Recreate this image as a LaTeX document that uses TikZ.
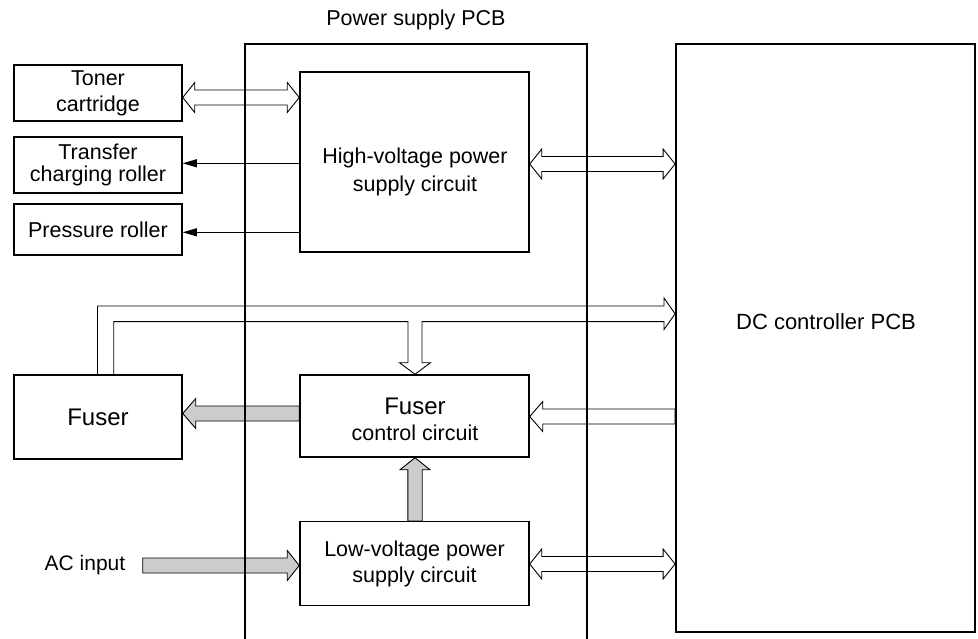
\documentclass[tikz,border=0pt]{standalone}
\usepackage{fontspec}
\setmainfont{Liberation Sans}
\usetikzlibrary{arrows.meta,calc}
\pgfdeclarelayer{bg}
\pgfsetlayers{bg,main}
\definecolor{arrgray}{RGB}{204,204,204}
% horizontal hollow double arrow: left tip, right tip
\newcommand\hdblarrow[2]{%
  \draw[blk] let \p1=#1, \p2=#2 in
   (\x1,\y1) -- (\x1+12pt,\y1+15pt) -- (\x1+12pt,\y1+7.5pt) -- (\x2-12pt,\y1+7.5pt)
   -- (\x2-12pt,\y1+15pt) -- (\x2,\y1) -- (\x2-12pt,\y1-15pt) -- (\x2-12pt,\y1-7.5pt)
   -- (\x1+12pt,\y1-7.5pt) -- (\x1+12pt,\y1-15pt) -- cycle;}
% horizontal single arrow pointing left: style, tip, tail
\newcommand\hleftarrow[3]{%
  \draw[#1] let \p1=#2, \p2=#3 in
   (\x1,\y1) -- (\x1+13pt,\y1+15pt) -- (\x1+13pt,\y1+7.5pt) -- (\x2,\y1+7.5pt)
   -- (\x2,\y1-7.5pt) -- (\x1+13pt,\y1-7.5pt) -- (\x1+13pt,\y1-15pt) -- cycle;}
% horizontal single arrow pointing right: style, tail, tip
\newcommand\hrightarrow[3]{%
  \draw[#1] let \p1=#2, \p2=#3 in
   (\x2,\y2) -- (\x2-12pt,\y2+15pt) -- (\x2-12pt,\y2+7.5pt) -- (\x1,\y2+7.5pt)
   -- (\x1,\y2-7.5pt) -- (\x2-12pt,\y2-7.5pt) -- (\x2-12pt,\y2-15pt) -- cycle;}
% vertical single arrow pointing up: style, tail, tip
\newcommand\vuparrow[3]{%
  \draw[#1] let \p1=#2, \p2=#3 in
   (\x2,\y2) -- (\x2+15pt,\y2-12pt) -- (\x2+7.2pt,\y2-12pt) -- (\x2+7.2pt,\y1)
   -- (\x2-7.2pt,\y1) -- (\x2-7.2pt,\y2-12pt) -- (\x2-15pt,\y2-12pt) -- cycle;}
\begin{document}
\begin{tikzpicture}[x=1pt,y=-1pt,
  box/.style={draw, line width=1.5pt, rectangle, inner sep=0pt},
  pcb/.style={draw, line width=1.8pt, rectangle, inner sep=0pt},
  txt/.style={font=\fontsize{21.5}{26}\selectfont, align=center, inner sep=0pt},
  blk/.style={draw, line width=0.9pt, fill=white, line join=miter},
  hollow/.style={draw, line width=0.9pt, line join=miter},
  gblk/.style={draw, line width=0.9pt, fill=arrgray, line join=miter},
  thinarr/.style={draw, line width=0.9pt, -{Triangle[length=14pt,width=8pt]}}]
\useasboundingbox (0,0) rectangle (978,639);

% PCB frames
\node[pcb, minimum width=342pt, minimum height=640pt] (psu) at (416,364) {};
\node[txt] (psulbl) at (416,20) {Power supply PCB};
\node[pcb, minimum width=299pt, minimum height=588pt] (dc) at (825.5,338) {};
\node[txt, font=\fontsize{22}{26}\selectfont] (dclbl) at (826,322) {DC controller PCB};

% circuits on the power supply PCB
\node[box, minimum width=229pt, minimum height=180pt] (hv) at (414.5,162) {};
\node[txt, font=\fontsize{21.5}{28}\selectfont] (hvlbl) at (415,172) {High-voltage power\\supply circuit};
\node[box, minimum width=229pt, minimum height=82pt] (fc) at (414.5,416) {};
\node[txt] (fclbl) at (415,419) {{\fontsize{24}{26}\selectfont Fuser}\\control circuit};
\node[box, minimum width=229pt, minimum height=84pt, txt] (lv) at (414.5,563.7) {Low-voltage power\\supply circuit};

% left-hand units
\node[box, minimum width=168pt, minimum height=56pt, txt] (toner) at (98,93) {Toner\\cartridge};
\node[box, minimum width=168pt, minimum height=56pt, txt, font=\fontsize{21.5}{22}\selectfont] (transfer) at (98,165) {Transfer\\charging roller};
\node[box, minimum width=168pt, minimum height=51pt, txt] (pressure) at (98,229.5) {Pressure roller};
\node[box, minimum width=168pt, minimum height=84pt, txt, font=\fontsize{24}{26}\selectfont] (fuser) at (98,417) {Fuser};
\node[txt, font=\fontsize{21}{26}\selectfont] (ac) at (85,565) {AC input};

\begin{pgfonlayer}{bg}
% helper points
\coordinate (tnR) at (toner.east |- 0,97.5);
\coordinate (hvT) at (hv.west |- 0,97.5);
\coordinate (hvR) at (hv.east |- 0,164);
\coordinate (dcH) at (dc.west |- 0,164);
\coordinate (fcR) at (fc.east |- 0,416.5);
\coordinate (dcF) at (dc.west |- 0,416.5);
\coordinate (lvR) at (lv.east |- 0,564);
\coordinate (dcL) at (dc.west |- 0,564);
\coordinate (fuR) at (fuser.east |- 0,413.5);
\coordinate (fcL) at (fc.west |- 0,413.5);
\coordinate (lvT) at (lv.north -| 415,0);
\coordinate (fcB) at (fc.south -| 415,0);
\coordinate (acT) at (142.7,565.5);
\coordinate (lvL) at (lv.west |- 0,565.5);

\hdblarrow{(tnR)}{(hvT)}
\draw[thinarr] (hv.west |- 0,163.3) -- (transfer.east |- 0,163.3);
\draw[thinarr] (hv.west |- 0,232.3) -- (pressure.east |- 0,232.3);
\hdblarrow{(hvR)}{(dcH)}
\hleftarrow{blk}{(fcR)}{(dcF)}
\hdblarrow{(lvR)}{(dcL)}
\hleftarrow{gblk}{(fuR)}{(fcL)}
\vuparrow{gblk}{(lvT)}{(fcB)}
\hrightarrow{gblk}{(acT)}{(lvL)}

% signal path from DC controller to fuser and fuser control circuit
\draw[hollow] (fuser.north -| 97.5,0) -- (97.5,306) -- (664,306) -- (664,298)
  -- (dc.west |- 0,313.8) -- (664,329.5) -- (664,321.7) -- (422,321.7)
  -- (422,362.7) -- (430.5,362.7) -- (fc.north -| 415,0) -- (399.5,362.7)
  -- (408,362.7) -- (408,321.7) -- (113.7,321.7) -- (fuser.north -| 113.7,0);
\end{pgfonlayer}
\end{tikzpicture}
\end{document}
